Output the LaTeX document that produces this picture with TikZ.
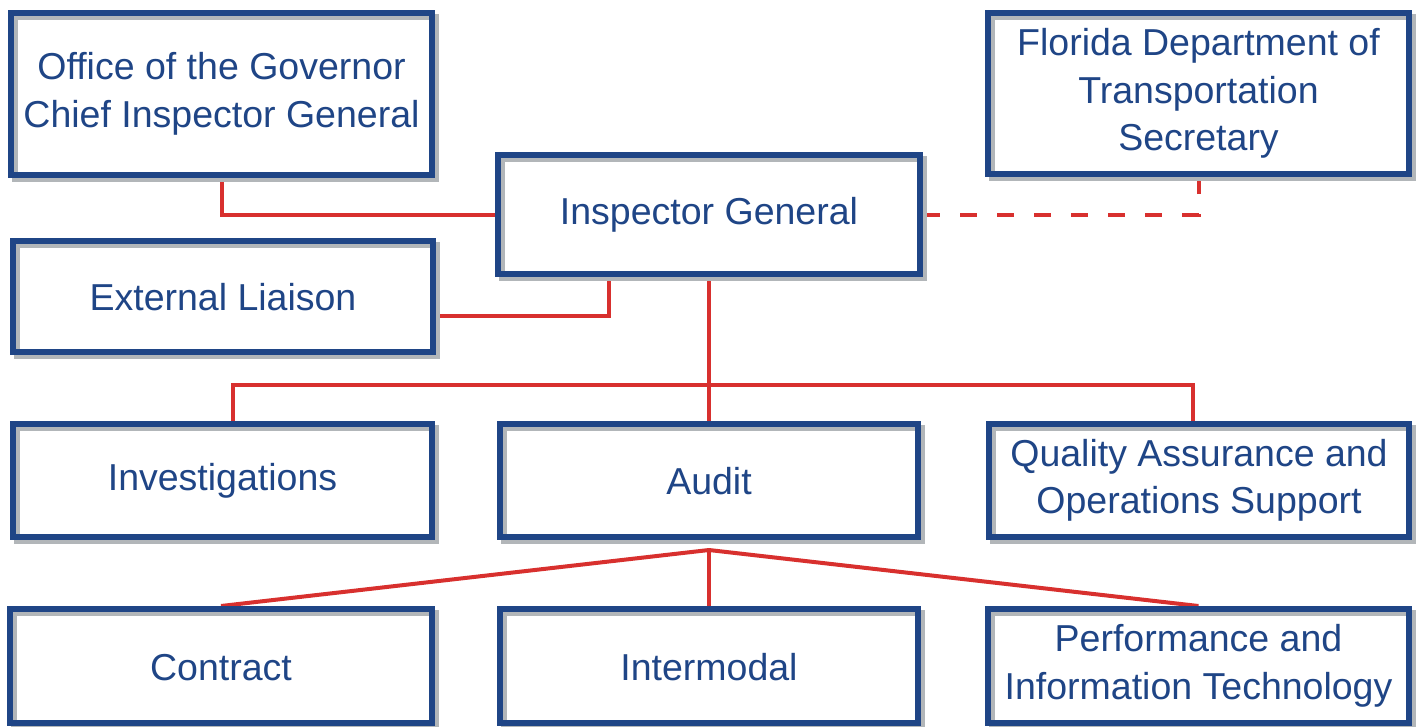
\documentclass[tikz,border=0pt]{standalone}
\usepackage{fontspec}
\setmainfont{Liberation Sans}
\usetikzlibrary{shadows,backgrounds,calc}
\definecolor{boxblue}{HTML}{1F4586}
\definecolor{linered}{HTML}{D8302E}
\definecolor{shadowgray}{HTML}{B2B6B9}
\begin{document}
\begin{tikzpicture}[x=1pt,y=-1pt,
  orgbox/.style={draw=boxblue, line width=6pt, text=boxblue,
    align=center, font=\fontsize{37.5}{47.5}\selectfont, inner sep=0pt,
    drop shadow={shadow xshift=4pt, shadow yshift=-4pt, fill=none,
      draw=shadowgray, line width=6pt, opacity=1}},
  oneline/.style={orgbox, execute at begin node={\rule{0pt}{28.5pt}}},
  multiline/.style={orgbox, execute at begin node={\rule{0pt}{39pt}}},
  conn/.style={draw=linered, line width=4pt},
  dconn/.style={conn, dash pattern=on 17pt off 20pt}]
\useasboundingbox (0,0) rectangle (1418,726);
\node[multiline, minimum width=421pt, minimum height=162pt] (gov) at (221.5,94)
  {Office of the Governor\\Chief Inspector General};
\node[multiline, minimum width=421pt, minimum height=161pt] (fdot) at (1198.5,93.5)
  {Florida Department of\\Transportation\\Secretary};
\node[oneline, minimum width=422pt, minimum height=119pt] (ig) at (709,214.5)
  {Inspector General};
\node[oneline, minimum width=420pt, minimum height=111pt] (ext) at (223,296.5)
  {External Liaison};
\node[oneline, minimum width=419pt, minimum height=113pt] (inv) at (222.5,480.5)
  {Investigations};
\node[oneline, minimum width=418pt, minimum height=113pt] (audit) at (709,480.5)
  {Audit};
\node[multiline, minimum width=420pt, minimum height=113pt] (qa) at (1199,480.5)
  {Quality Assurance and\\Operations Support};
\node[oneline, minimum width=422pt, minimum height=114pt] (contract) at (221,666)
  {Contract};
\node[oneline, minimum width=418pt, minimum height=114pt] (inter) at (709,666)
  {Intermodal};
\node[multiline, minimum width=421pt, minimum height=114pt] (perf) at (1198.5,666)
  {Performance and\\Information Technology};
\coordinate (bus) at (709,385);
\coordinate (apex) at ($(audit.south)+(0,10)$);
\begin{scope}[on background layer]
\fill[white] (0,0) rectangle (1418,726);
\draw[conn] (gov.south) |- (ig.west);
\draw[dconn] (ig.east) -| (fdot.south);
\draw[conn] ([yshift=-19.5pt]ext.east) -| ([xshift=-100pt]ig.south);
\draw[conn] (ig.south) -- (audit.north);
\draw[conn] ([xshift=10pt]inv.north) |- (bus) -| ([xshift=-6pt]qa.north);
\draw[conn] (apex) -- (contract.north);
\draw[conn] (apex) -- (perf.north);
\draw[conn] (apex) -- (inter.north);
\end{scope}
\end{tikzpicture}
\end{document}
